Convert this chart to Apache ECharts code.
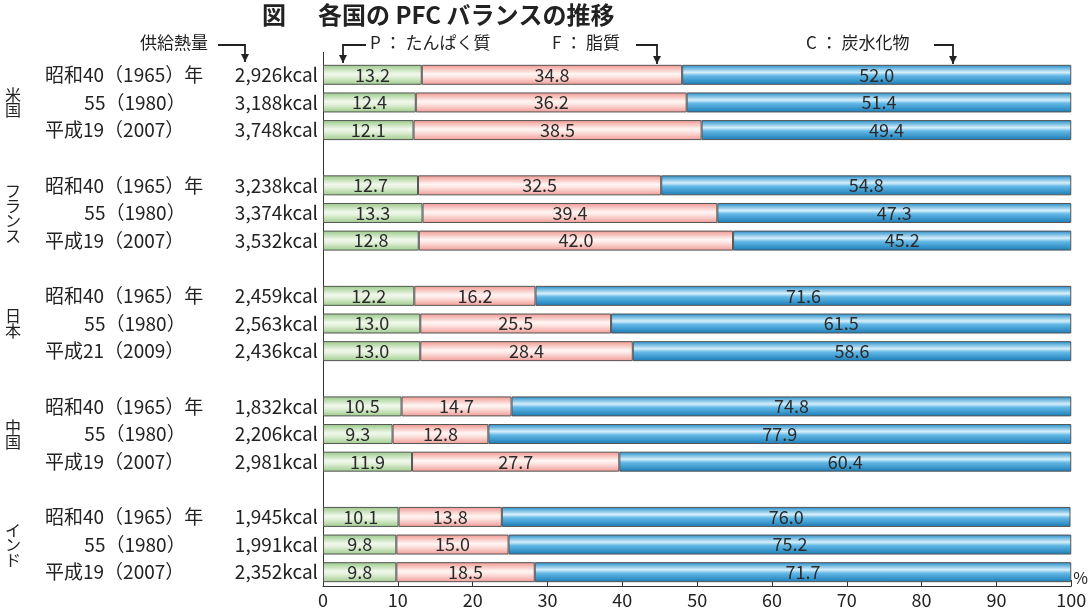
<!DOCTYPE html>
<html><head><meta charset="utf-8">
<script src="https://cdn.jsdelivr.net/npm/echarts@6.0.0/dist/echarts.min.js"></script>
<style>html,body{margin:0;padding:0;background:#fff}#c{width:1091px;height:609px}</style>
</head><body><div id="c"></div>
<script>
const FONT = '"Noto Sans CJK JP","Noto Sans",sans-serif';
const countries = ['米国', 'フランス', '日本', '中国', 'インド'];
const periodLabels = [
  ['昭和40（1965）年', '55（1980）', '平成19（2007）'],
  ['昭和40（1965）年', '55（1980）', '平成19（2007）'],
  ['昭和40（1965）年', '55（1980）', '平成21（2009）'],
  ['昭和40（1965）年', '55（1980）', '平成19（2007）'],
  ['昭和40（1965）年', '55（1980）', '平成19（2007）']
];
const kcal = [2926, 3188, 3748, 3238, 3374, 3532, 2459, 2563, 2436, 1832, 2206, 2981, 1945, 1991, 2352];
const protein = [13.2, 12.4, 12.1, 12.7, 13.3, 12.8, 12.2, 13.0, 13.0, 10.5, 9.3, 11.9, 10.1, 9.8, 9.8];
const fat = [34.8, 36.2, 38.5, 32.5, 39.4, 42.0, 16.2, 25.5, 28.4, 14.7, 12.8, 27.7, 13.8, 15.0, 18.5];
const carb = [52.0, 51.4, 49.4, 54.8, 47.3, 45.2, 71.6, 61.5, 58.6, 74.8, 77.9, 60.4, 76.0, 75.2, 71.7];
const seriesNames = ['P：たんぱく質', 'F：脂質', 'C：炭水化物'];

// category slots (rows + empty gap slots between countries)
const keys = [];
countries.forEach((c, ci) => {
  for (let j = 0; j < 3; j++) keys.push('r' + (ci * 3 + j));
  if (ci < countries.length - 1) keys.push('g' + ci);
});
const rowIdx = k => k[0] === 'r' ? parseInt(k.slice(1), 10) : -1;
const toData = arr => keys.map(k => { const i = rowIdx(k); return i < 0 ? '-' : arr[i]; });

function grad(stops) {
  return { type: 'linear', x: 0, y: 0, x2: 0, y2: 1,
    colorStops: stops.map(s => ({ offset: s[0], color: s[1] })) };
}
const fills = [
  grad([[0, '#97c886'], [0.45, '#f1f8ec'], [0.6, '#e4f1db'], [1, '#9dcb8b']]),
  grad([[0, '#f0958f'], [0.45, '#fff6f4'], [0.6, '#fde4e1'], [1, '#f09b96']]),
  grad([[0, '#1f8bc8'], [0.38, '#d6effb'], [0.55, '#62b8e6'], [1, '#1a7bb6']])
];
const valueArrays = [protein, fat, carb];

const chart = echarts.init(document.getElementById('c'));
const fmtK = n => n.toLocaleString('en-US') + 'kcal';

function arrow(pts) {
  const t = pts[pts.length - 1];
  return [
    { type: 'polyline', shape: { points: pts }, style: { stroke: '#222', lineWidth: 1.8, fill: null } },
    { type: 'polygon', shape: { points: [[t[0] - 4, t[1] - 8], [t[0] + 4, t[1] - 8], [t[0], t[1]]] }, style: { fill: '#222' } }
  ];
}
const annFont = { fontSize: 17, fontFamily: FONT, fill: '#222' };

chart.setOption({
  animation: false,
  backgroundColor: '#fff',
  grid: { left: 323, right: 19, top: 61, bottom: 23 },
  xAxis: {
    type: 'value', min: 0, max: 100, interval: 10,
    name: '%', nameLocation: 'end', nameGap: 2,
    nameTextStyle: { fontSize: 16, color: '#222', fontFamily: FONT, verticalAlign: 'bottom' },
    axisLine: { show: true, lineStyle: { color: '#333', width: 1 } },
    axisTick: { show: true, inside: true, length: 6, lineStyle: { color: '#333' } },
    axisLabel: { fontSize: 18, color: '#222', fontFamily: FONT, margin: 5 },
    splitLine: { show: false }
  },
  yAxis: [
    {
      type: 'category', inverse: true, data: keys,
      axisLine: { show: true, lineStyle: { color: '#333', width: 1 } },
      axisTick: { show: false },
      axisLabel: {
        margin: 5, interval: 0, fontFamily: FONT,
        formatter: k => {
          const i = rowIdx(k);
          if (i < 0) return '';
          const ci = Math.floor(i / 3), j = i % 3;
          const st = j === 1 ? 'm' : 'y';
          return '{' + st + '|' + periodLabels[ci][j] + '}{k|' + fmtK(kcal[i]) + '}';
        },
        rich: {
          y: { width: 180, align: 'left', fontSize: 19, color: '#222', fontFamily: FONT },
          m: { width: 180, align: 'center', fontSize: 19, color: '#222', fontFamily: FONT },
          k: { width: 93, align: 'right', fontSize: 19, color: '#222', fontFamily: FONT }
        }
      }
    },
    {
      type: 'category', inverse: true, data: keys, position: 'left', offset: 300,
      axisLine: { show: false }, axisTick: { show: false },
      axisLabel: {
        margin: 10, interval: 0, align: 'center', fontSize: 16, lineHeight: 15,
        color: '#222', fontFamily: FONT,
        formatter: k => {
          const i = rowIdx(k);
          if (i < 0 || i % 3 !== 1) return '';
          return countries[Math.floor(i / 3)].split('').join('\n');
        }
      }
    }
  ],
  series: valueArrays.map((arr, si) => ({
    name: seriesNames[si], type: 'bar', stack: 'pfc', yAxisIndex: 0,
    barWidth: 20, data: toData(arr),
    itemStyle: { color: fills[si], borderColor: '#555', borderWidth: 1 },
    label: {
      show: true, position: 'inside', fontSize: 18, color: '#2a2a2a', fontFamily: FONT,
      formatter: p => Number(p.value).toFixed(1)
    }
  })),
  graphic: [
    { type: 'polyline', shape: { points: [[323.5, 52], [323.5, 61]] }, style: { stroke: '#333', lineWidth: 1 } },
    { type: 'text', left: 262, top: 3, style: { text: '図', fontSize: 24, fontWeight: 'bold', fontFamily: FONT, fill: '#222' } },
    { type: 'text', left: 318, top: 3, style: { text: '各国の PFC バランスの推移', fontSize: 24, fontWeight: 'bold', fontFamily: FONT, fill: '#222' } },
    { type: 'text', left: 140, top: 34, style: Object.assign({ text: '供給熱量' }, annFont) },
    ...arrow([[218, 45], [245, 45], [245, 62]]),
    { type: 'text', left: 370, top: 34, style: Object.assign({ text: 'P ： たんぱく質' }, annFont) },
    ...arrow([[366, 45], [343, 45], [343, 63]]),
    { type: 'text', left: 552, top: 34, style: Object.assign({ text: 'F ： 脂質' }, annFont) },
    ...arrow([[636, 45], [657, 45], [657, 64]]),
    { type: 'text', left: 806, top: 34, style: Object.assign({ text: 'C ： 炭水化物' }, annFont) },
    ...arrow([[934, 45], [953, 45], [953, 64]])
  ]
});
</script>
</body></html>
